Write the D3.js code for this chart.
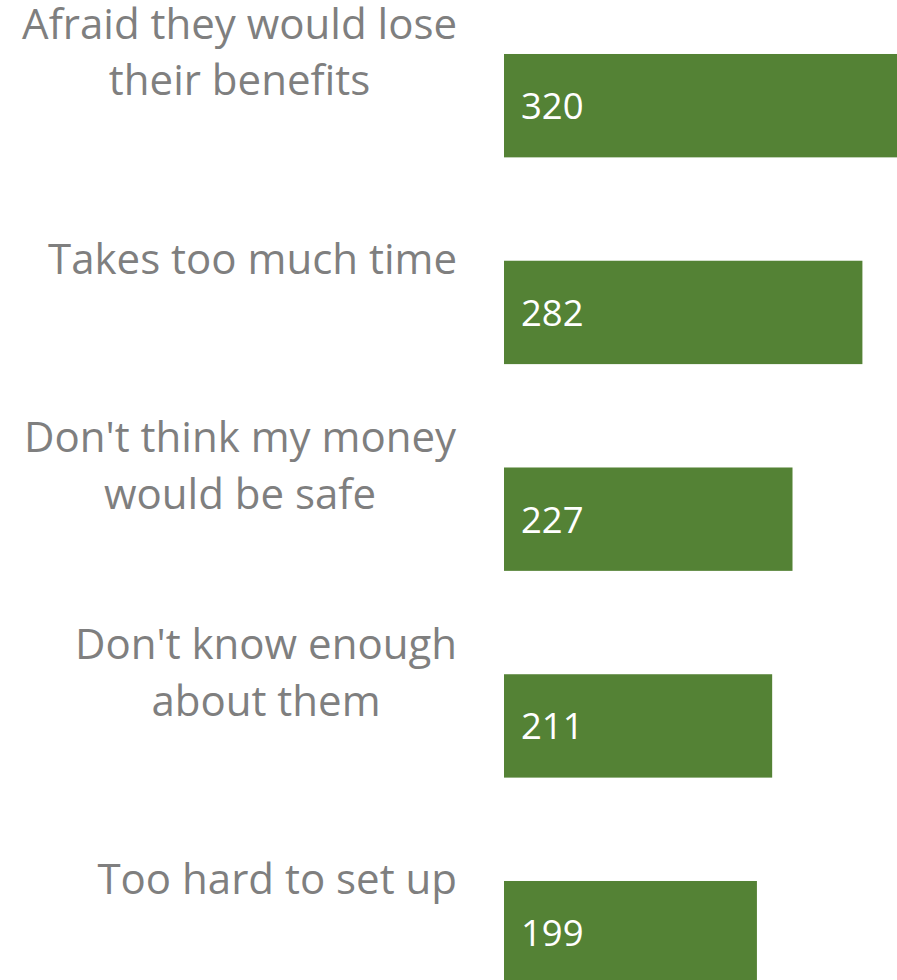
<!DOCTYPE html>
<html>
<head>
<meta charset="utf-8">
<script src="https://cdn.jsdelivr.net/npm/d3@7"></script>
<style>
  html, body { margin: 0; padding: 0; background: #ffffff; overflow: hidden; }
  svg { display: block; }
</style>
</head>
<body>
<script>
const categories = [
  "Afraid they would lose\ntheir benefits",
  "Takes too much time",
  "Don't think my money\nwould be safe",
  "Don't know enough\nabout them",
  "Too hard to set up"
];
const values = [320, 282, 227, 211, 199];

const W = 897, H = 980;
const barColor = "#548235";
const labelColor = "#7f7f7f";
const labelFont = "'Open Sans', 'Noto Sans', sans-serif";

const svg = d3.select("body").append("svg")
  .attr("width", W).attr("height", H);

const x = d3.scaleLinear().domain([0, 320]).range([504, 910.7]);
const y = d3.scaleBand()
  .domain(categories)
  .range([2.3, 2.3 + 5 * 206.75])
  .paddingInner(0.5)
  .paddingOuter(0.25);

const data = categories.map((c, i) => ({ cat: c, value: values[i] }));

svg.append("g").selectAll("rect")
  .data(data).join("rect")
  .attr("x", x(0))
  .attr("y", d => y(d.cat))
  .attr("width", d => x(d.value) - x(0))
  .attr("height", y.bandwidth())
  .attr("fill", barColor);

svg.append("g").selectAll("text")
  .data(data).join("text")
  .attr("x", x(0) + 17)
  .attr("y", d => y(d.cat) + y.bandwidth() / 2 + 13.5)
  .attr("fill", "#ffffff")
  .attr("font-family", labelFont)
  .attr("font-size", 36.5)
  .text(d => d.value);

const lineH = 57;
const labels = svg.append("g").selectAll("text")
  .data(data).join("text")
  .attr("fill", labelColor)
  .attr("font-family", labelFont)
  .attr("font-size", 42)
  .attr("text-anchor", "middle");

labels.each(function(d) {
  const t = d3.select(this);
  const lines = d.cat.split("\n");
  const first = y(d.cat) + 13 - (lines.length - 1) * lineH / 2;
  lines.forEach((ln, j) => {
    t.append("tspan").attr("x", 0).attr("y", first + j * lineH).text(ln);
  });
  const bb = this.getBBox();
  const shift = 457 - (bb.x + bb.width);
  t.attr("transform", `translate(${shift},0)`);
});
</script>
</body>
</html>
